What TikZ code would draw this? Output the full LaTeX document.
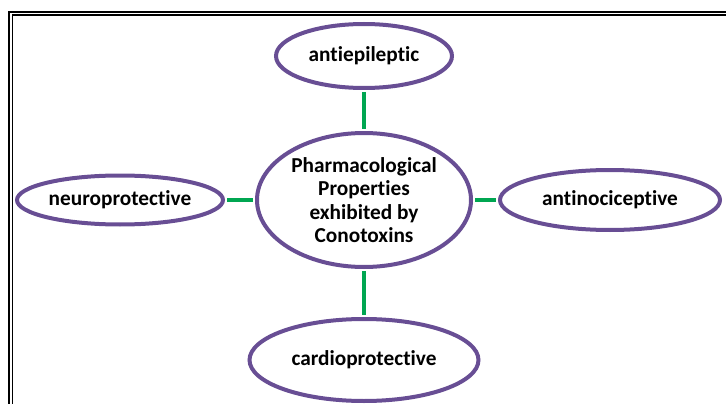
\documentclass[tikz,border=0pt]{standalone}
\usepackage{fontspec}
\setmainfont[Ligatures=NoCommon]{Carlito}
\usetikzlibrary{shapes.geometric}
\definecolor{ovalpurple}{RGB}{104,78,148}
\definecolor{linkgreen}{RGB}{0,166,81}

\begin{document}
\begin{tikzpicture}[x=1pt, y=-1pt, line width=4pt,
  prop/.style={draw=ovalpurple, ellipse, inner sep=0pt, align=center,
    font=\fontsize{21.3}{23.5}\selectfont\bfseries},
  link/.style={draw=linkgreen, shorten <=2pt, shorten >=2pt}]

\useasboundingbox (0,0) rectangle (726,404);

% double frame, left and top only
\draw[line width=2pt] (9,404)--(9,12)--(726,12);
\draw[line width=1.4pt] (12.5,404)--(12.5,15.2)--(726,15.2);

\node[prop, minimum width=214pt, minimum height=134pt] (core) at (364,200)
  {Pharmacological\\Properties\\exhibited by\\Conotoxins};

\node[prop, minimum width=176pt, minimum height=64pt] (epi) at (364,56) {antiepileptic};
\node[prop, minimum width=206pt, minimum height=49pt] (neuro) at (120,200) {neuroprotective};
\node[prop, minimum width=220pt, minimum height=60pt] (noci) at (610,200) {antinociceptive};
\node[prop, minimum width=229pt, minimum height=82pt] (cardio) at (364,360) {cardioprotective};

\draw[link] (epi.south) -- (core.north);
\draw[link] (neuro.east) -- (core.west);
\draw[link] (core.east) -- (noci.west);
\draw[link] (core.south) -- (cardio.north);

\end{tikzpicture}
\end{document}
